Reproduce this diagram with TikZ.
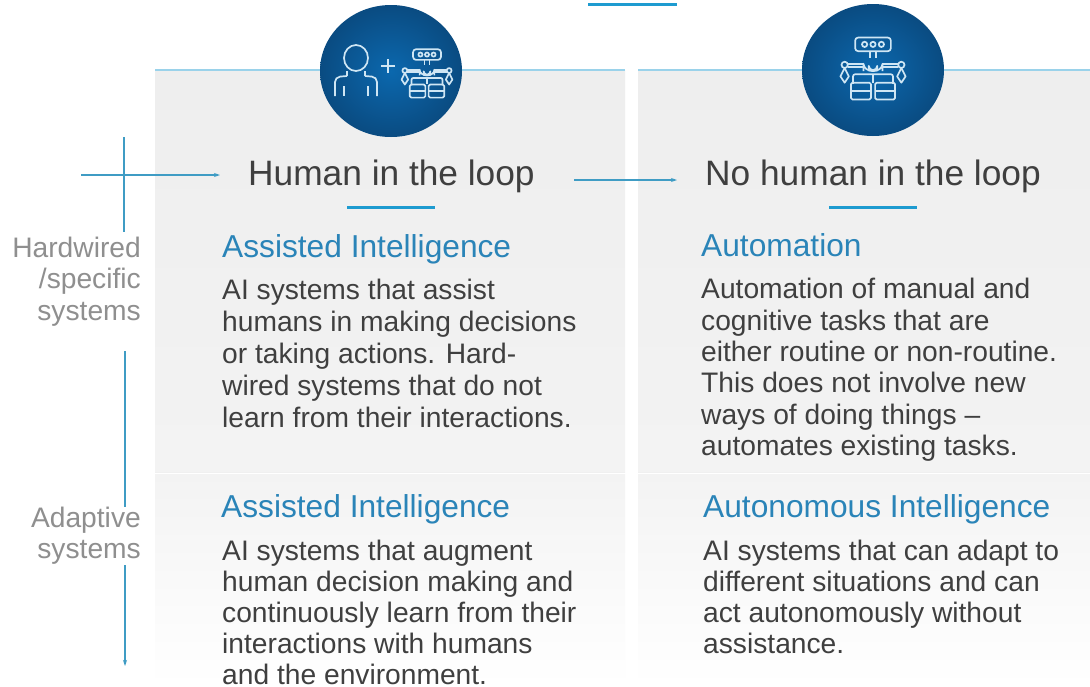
\documentclass[tikz,border=0pt]{standalone}
\usepackage{fontspec}
\setmainfont{Liberation Sans}
\usetikzlibrary{arrows.meta}
\definecolor{accent}{HTML}{1E9BD0}
\definecolor{headblue}{HTML}{2A84B8}
\definecolor{bodyc}{HTML}{3F3F3F}
\definecolor{sidec}{HTML}{8F8F8F}
\definecolor{panelg}{HTML}{EEEEEE}
\definecolor{circin}{HTML}{0B68AE}
\definecolor{circout}{HTML}{0A3F6E}
\definecolor{axisc}{HTML}{3F9CC4}
\definecolor{iconc}{HTML}{CFE6F4}
\tikzset{
  x=1pt,y=-1pt,
  title/.style={anchor=base west,font=\fontsize{35.3}{35}\selectfont,text=bodyc,inner sep=0pt},
  head/.style={anchor=base west,font=\fontsize{31.7}{32}\selectfont,text=headblue,inner sep=0pt},
  body/.style={anchor=north west,font=\fontsize{28.2}{31}\selectfont,text=bodyc,inner sep=0pt,align=left},
  bodywide/.style={body,font=\fontsize{28.2}{31.9}\selectfont},
  bodymid/.style={body,font=\fontsize{28.2}{31.4}\selectfont},
  side/.style={anchor=north east,font=\fontsize{28.2}{31.3}\selectfont,text=sidec,inner sep=0pt,align=right},
  bar/.style={draw=accent,line width=3pt},
  axis/.style={draw=axisc,line width=1.2pt},
  arr/.style={axis,-{Stealth[length=6pt,width=4pt]}},
  ic/.style={draw=iconc,line width=1.7pt,fill=none,line join=round},
  discsh/.style={inner color=circin,outer color=circout!70!circin},
}
\newcommand{\robot}[3]{%
 \begin{scope}[shift={(#1,#2)},scale=#3]
  \draw[ic,rounded corners=3pt] (-17,-29) rectangle (17,-16);
  \foreach \q in {-8,0,8}\draw[ic] (\q,-22.5) circle (2.5);
  \draw[ic] (-3,-16) -- (-3,-10) (3,-16) -- (3,-10);
  \draw[ic] (-9,3) -- (-9,-4) arc (180:0:9 and 7) -- (9,3);
  \draw[ic] (-4,3) -- (-4,-2) arc (180:0:4) -- (4,3);
  \draw[ic] (-9,-4) -- (-24,-4) (9,-4) -- (24,-4) (-9,-1) -- (-24,-1) (9,-1) -- (24,-1);
  \draw[ic] (-27,-3) circle (3) (27,-3) circle (3);
  \draw[ic] (-31,8) -- (-27,0) -- (-23,8) -- (-27,14) -- cycle;
  \draw[ic] (31,8) -- (27,0) -- (23,8) -- (27,14) -- cycle;
  \draw[ic,rounded corners=2pt] (-19,15) -- (-19,6) -- (19,6) -- (19,15);
  \draw[ic] (0,6) -- (0,14);
  \draw[ic,rounded corners=1.5pt] (-21,14) rectangle (-2,30);
  \draw[ic,rounded corners=1.5pt] (2,14) rectangle (21,30);
  \draw[ic] (-21,22) -- (-2,22) (2,22) -- (21,22);
 \end{scope}}
\begin{document}
\begin{tikzpicture}
\useasboundingbox (0,0) rectangle (1090,686);
\fill[white] (0,0) rectangle (1090,686);
% panels
\shade[top color=panelg,bottom color=panelg!70!white] (155,70) rectangle (625,472);
\shade[top color=panelg,bottom color=panelg!70!white] (638,70) rectangle (1090,472);
\shade[top color=panelg!70!white,bottom color=white] (155,474) rectangle (625,686);
\shade[top color=panelg!70!white,bottom color=white] (638,474) rectangle (1090,686);
\draw[draw=black!6,line width=1pt] (155,472.5) -- (625,472.5) (638,472.5) -- (1090,472.5);
\draw[draw=accent!45,line width=1.5pt] (155,70) -- (625,70) (638,70) -- (1090,70);
\draw[bar] (588,4.5) -- (677,4.5);
% discs
\shade[discsh] (391,71) ellipse (71 and 66);
\shade[discsh] (873,70) ellipse (71 and 66);
% person + robot icons
\begin{scope}[shift={(356,0)}]
 \draw[ic] (0,58) ellipse (12 and 13);
 \draw[ic,rounded corners=5pt] (-21,96) -- (-21,77) -- (-9,76) (9,76) -- (21,77) -- (21,96);
 \draw[ic] (-9,76) -- (-9,71) (9,76) -- (9,71);
 \draw[ic] (-12,86) -- (-12,96) (12,86) -- (12,96);
\end{scope}
\draw[ic] (381,66) -- (395,66) (388,59) -- (388,73);
\robot{427}{73}{0.82}
\robot{873}{68}{1.05}
% axes
\coordinate (vt) at (124,137);
\coordinate (vb) at (124,232);
\coordinate (ht) at (81,175);
\coordinate (he) at (220,175);
\coordinate (mt) at (574,180);
\coordinate (me) at (677,180);
\coordinate (vt2) at (125,351);
\coordinate (vb2) at (125,666);
\draw[axis] (vt) -- (vb);
\draw[arr] (ht) -- (he);
\draw[arr] (mt) -- (me);
\draw[arr] (vt2) -- (vb2);
% titles
\node[title] (t1) at (248,185) {Human in the loop};
\node[title] (t2) at (705,185) {No human in the loop};
\draw[bar] (347,207) -- (435,207);
\draw[bar] (829,207) -- (917,207);
% side labels
\node[side,fill=white] (s1) at (141,237) {Hardwired\\/specific\\systems};
\node[side,fill=white] (s2) at (141,507) {Adaptive\\systems};
% heads and bodies
\node[head] (h1) at (222,257) {Assisted Intelligence};
\node[bodywide] (b1) at (222,279) {AI systems that assist\\humans in making decisions\\or taking actions. Hard-\\wired systems that do not\\learn from their interactions.};
\node[head] (h2) at (701,256.5) {Automation};
\node[bodymid] (b2) at (701,278) {Automation of manual and\\cognitive tasks that are\\either routine or non-routine.\\This does not involve new\\ways of doing things --\\automates existing tasks.};
\node[head] (h3) at (221,517) {Assisted Intelligence};
\node[body] (b3) at (222,539.5) {AI systems that augment\\human decision making and\\continuously learn from their\\interactions with humans\\and the environment.};
\node[head] (h4) at (703,517) {Autonomous Intelligence};
\node[body] (b4) at (703,540) {AI systems that can adapt to\\different situations and can\\act autonomously without\\assistance.};
\end{tikzpicture}
\end{document}
